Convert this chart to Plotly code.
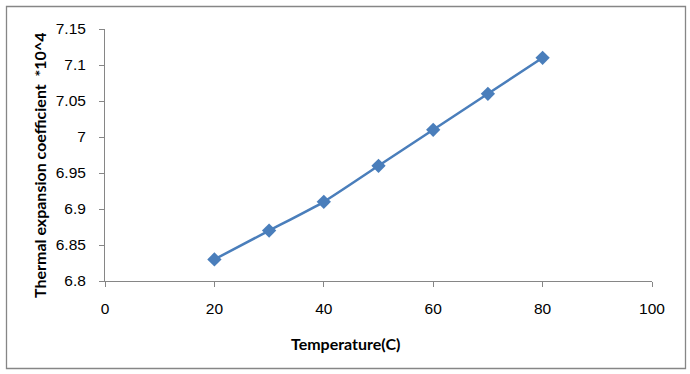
import plotly.graph_objects as go

temperature = [20, 30, 40, 50, 60, 70, 80]
coefficient = [6.83, 6.87, 6.91, 6.96, 7.01, 7.06, 7.11]

x_ticks = [0, 20, 40, 60, 80, 100]
y_ticks = [6.8, 6.85, 6.9, 6.95, 7.0, 7.05, 7.1, 7.15]
y_tick_text = ["6.8", "6.85", "6.9", "6.95", "7", "7.05", "7.1", "7.15"]

W, H = 690, 374
L, R, T, B = 105, 38, 29, 93
pw, ph = W - L - R, H - T - B


def px(x):
    return (x - L) / pw


def py(y):
    return (H - B - y) / ph


fig = go.Figure()
fig.add_trace(go.Scatter(
    x=temperature, y=coefficient, mode="lines+markers",
    line=dict(color="#4a7ebb", width=2.5, shape="spline", smoothing=0.5),
    marker=dict(symbol="diamond", size=11, color="#4a7ebb"),
    showlegend=False,
))

axis_common = dict(
    showgrid=False, zeroline=False, showline=True, linecolor="#868686", linewidth=1,
    ticks="outside", ticklen=5, tickcolor="#868686", tickwidth=1,
    tickfont=dict(family="Liberation Sans, Arial", size=15.5, color="#000000"),
)

fig.update_layout(
    width=W, height=H,
    margin=dict(l=L, r=R, t=T, b=B),
    paper_bgcolor="white", plot_bgcolor="white",
    xaxis=dict(range=[0, 100], tickvals=x_ticks, ticklabelstandoff=8, **axis_common),
    yaxis=dict(range=[6.8, 7.15], tickvals=y_ticks, ticktext=y_tick_text, ticklabelstandoff=10, **axis_common),
    shapes=[dict(type="rect", xref="paper", yref="paper",
                 x0=px(6.5), x1=px(685.5), y0=py(368.5), y1=py(6.5),
                 line=dict(color="#868686", width=1.3), fillcolor="rgba(0,0,0,0)", layer="below")],
    annotations=[
        dict(text="<b>Temperature(C)</b>", xref="paper", yref="paper",
             x=px(345), y=py(343), showarrow=False, xanchor="center", yanchor="middle",
             font=dict(family="Lato, Carlito, Calibri", size=16, color="#000000")),
        dict(text="<b>Thermal expansion coefficient  *10^4</b>", xref="paper", yref="paper",
             x=px(39), y=py(166), showarrow=False, xanchor="center", yanchor="middle", textangle=-90,
             font=dict(family="Lato, Carlito, Calibri", size=16, color="#000000")),
    ],
)

fig.write_html("out.html", config={"displayModeBar": False},
               post_script="document.body.style.margin='0';document.body.style.overflow='hidden';")
